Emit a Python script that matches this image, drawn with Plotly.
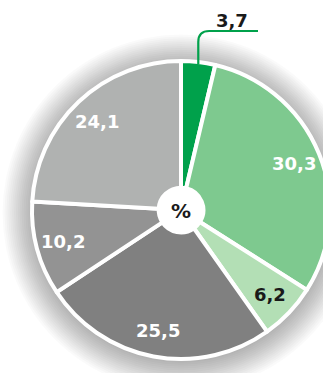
import math
import plotly.graph_objects as go

# Shares in percent, clockwise from 12 o'clock
categories = ["A", "B", "C", "D", "E", "F"]
values = [3.7, 30.3, 6.2, 25.5, 10.2, 24.1]
slice_colors = ["#00a14b", "#7ec98f", "#b3dfb5", "#808080", "#939393", "#b0b2b1"]
label_colors = ["#1a1a1a", "#ffffff", "#1a1a1a", "#ffffff", "#ffffff", "#ffffff"]
center_label = "%"

W, H = 362, 373          # canvas (right part of the disc runs past the window)
CX, CY, R = 181, 210, 149  # disc centre and radius in px
HOLE = 0.15
FONT = "DejaVu Sans"


def px(x, y):
    """pixel (from top-left) -> paper coordinates"""
    return x / W, 1 - y / H


def circle(cx, cy, r, **kw):
    x0, y0 = px(cx - r, cy + r)
    x1, y1 = px(cx + r, cy - r)
    return dict(type="circle", xref="paper", yref="paper", x0=x0, y0=y0, x1=x1, y1=y1, **kw)


def fmt(v):
    return f"{v:.1f}".replace(".", ",")


fig = go.Figure(
    go.Pie(
        labels=categories,
        values=values,
        sort=False,
        direction="clockwise",
        rotation=0,
        hole=HOLE,
        marker=dict(colors=slice_colors, line=dict(color="white", width=4)),
        textinfo="none",
        hoverinfo="skip",
        showlegend=False,
        domain=dict(x=[0, 1], y=[(H - (CY + R)) / H, (H - (CY - R)) / H]),
    )
)

# soft drop shadow around the disc
shapes = []
for k in range(16):
    r = R + 1 + k * 1.9
    shapes.append(circle(CX, CY + 3, r, fillcolor="rgba(0,0,0,0.018)",
                         line=dict(width=0), layer="below"))

# keep the centre hole clean white
shapes.append(circle(CX, CY, HOLE * R + 1, fillcolor="white",
                     line=dict(width=0), layer="above"))

# value labels at the slice mid-angles
total = sum(values)
annotations = []
acc = 0.0
mids = []
for v in values:
    mids.append(2 * math.pi * (acc + v / 2) / total)
    acc += v

for i, (v, a) in enumerate(zip(values, mids)):
    if i == 0:
        continue
    rr = 0.82 * R
    x, y = px(CX + rr * math.sin(a), CY - rr * math.cos(a))
    annotations.append(dict(x=x, y=y, xref="paper", yref="paper", text=f"<b>{fmt(v)}</b>",
                            showarrow=False, font=dict(family=FONT, size=18, color=label_colors[i]),
                            xanchor="center", yanchor="middle"))

# small first slice: label outside with a rounded leader line
a0 = mids[0]
sx, sy = CX + R * math.sin(a0), CY - R * math.cos(a0) + 2
ly = 31
p = [px(sx, sy), px(sx, ly + 11), px(sx, ly), px(sx + 11, ly), px(258, ly)]
path = (f"M {p[0][0]},{p[0][1]} L {p[1][0]},{p[1][1]} "
        f"Q {p[2][0]},{p[2][1]} {p[3][0]},{p[3][1]} L {p[4][0]},{p[4][1]}")
shapes.append(dict(type="path", xref="paper", yref="paper", path=path,
                   line=dict(color=slice_colors[0], width=2.2), layer="above"))
tx, ty = px(232, 20)
annotations.append(dict(x=tx, y=ty, xref="paper", yref="paper", text=f"<b>{fmt(values[0])}</b>",
                        showarrow=False, font=dict(family=FONT, size=18, color=label_colors[0]),
                        xanchor="center", yanchor="middle"))

# centre mark
cx_, cy_ = px(CX, CY + 1)
annotations.append(dict(x=cx_, y=cy_, xref="paper", yref="paper", text=f"<b>{center_label}</b>",
                        showarrow=False, font=dict(family=FONT, size=20, color="#1a1a1a"),
                        xanchor="center", yanchor="middle"))

fig.update_layout(
    width=W, height=H,
    margin=dict(l=0, r=0, t=0, b=0),
    paper_bgcolor="white", plot_bgcolor="white",
    shapes=shapes, annotations=annotations,
)

fig.write_html(
    "out.html",
    config={"displayModeBar": False, "staticPlot": True},
    post_script="document.documentElement.style.overflow='hidden';document.body.style.overflow='hidden';document.body.style.margin='0';",
)
